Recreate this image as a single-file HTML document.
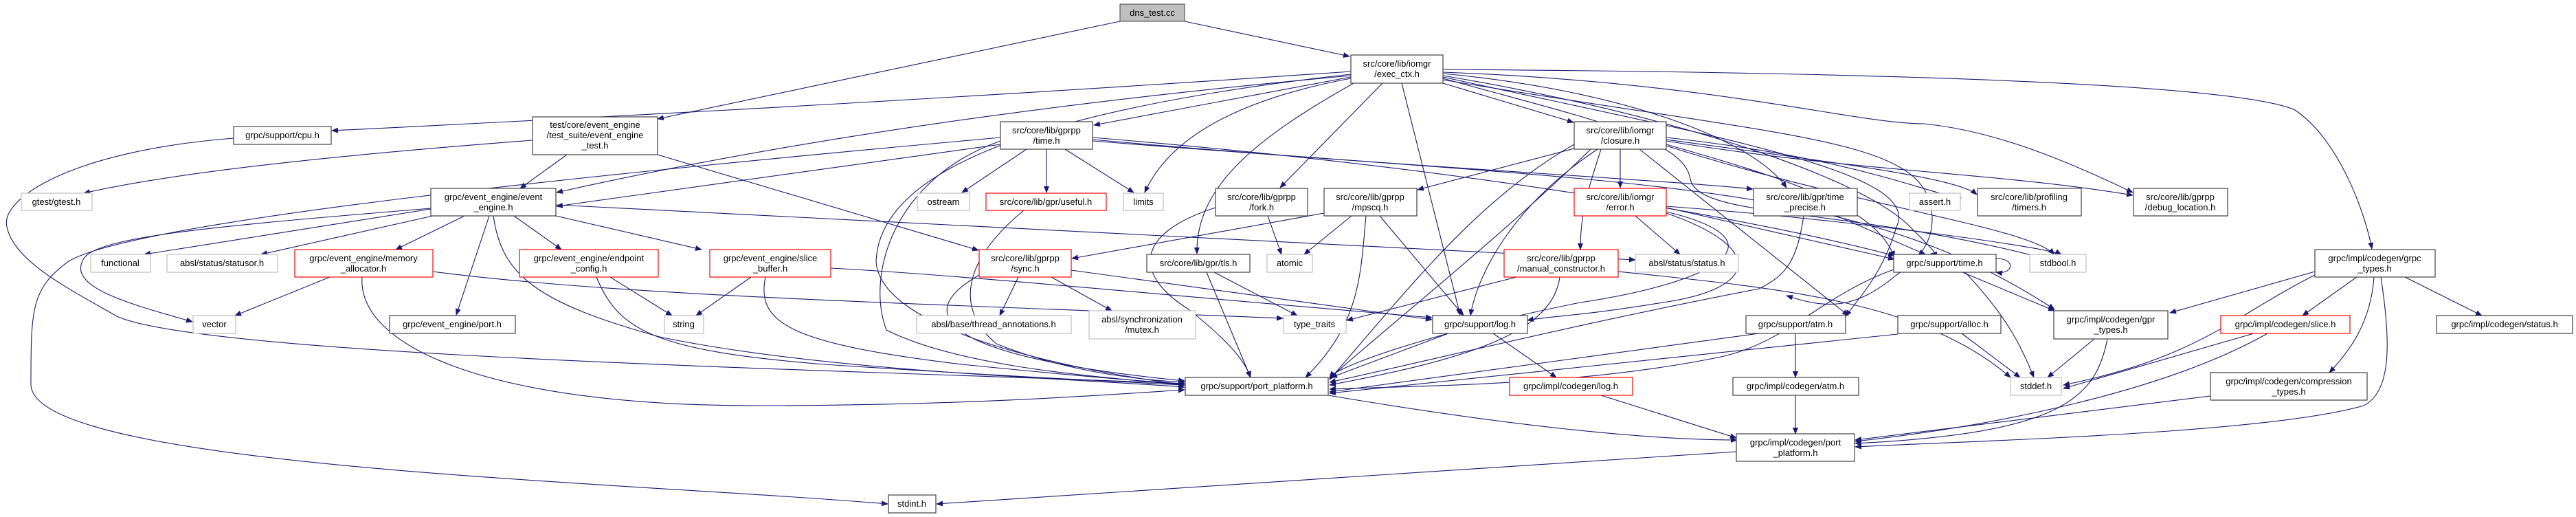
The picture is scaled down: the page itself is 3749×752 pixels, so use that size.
<!DOCTYPE html>
<html><head><meta charset="utf-8"><style>
html,body{margin:0;padding:0;background:#fff}
svg{display:block}
text{font-family:"Liberation Sans",sans-serif;font-size:13px;fill:#000;text-anchor:middle}
.n{fill:#fff;stroke:#404040;stroke-width:1.2}
.r{fill:#fff;stroke:#ff0000;stroke-width:1.2}
.g{fill:#fff;stroke:#bfbfbf;stroke-width:1.2}
.e{fill:none;stroke:#191970;stroke-width:1.1;marker-end:url(#a)}
</style></head><body>
<svg width="3749" height="752" viewBox="0 0 3749 752" xmlns="http://www.w3.org/2000/svg">
<defs><marker id="a" markerWidth="10" markerHeight="8" refX="9" refY="4" orient="auto" markerUnits="userSpaceOnUse"><path d="M0,0 L10,4 L0,8 z" fill="#191970"/></marker></defs>

<!-- edges -->
<path class="e" d="M1630,31 L957,173"/>
<path class="e" d="M1724,31 L1964,82"/>
<path class="e" d="M1966,104 Q1300,150 483,190"/>
<path class="e" d="M1966,110 Q1300,170 810,280"/>
<path class="e" d="M1966,112 L1592,182"/>
<path class="e" d="M1966,114 Q1720,160 1666,280"/>
<path class="e" d="M1970,121 C1830,200 1740,270 1742,369"/>
<path class="e" d="M2012,121 L1863,273"/>
<path class="e" d="M2040,121 L2125,458"/>
<path class="e" d="M2100,121 L2290,178"/>
<path class="e" d="M1966,108 C1500,160 1280,250 1275,380 C1280,470 1500,530 1724,560"/>
<path class="e" d="M2100,101 C2700,105 3250,120 3340,160 C3400,200 3440,300 3452,362"/>
<path class="e" d="M2100,105 C2500,120 2700,180 2800,180 C2900,190 3000,230 3104,280"/>
<path class="e" d="M2100,107 C2350,130 2550,200 2600,273"/>
<path class="e" d="M2100,110 C2400,160 2700,250 2780,330 C2820,370 2820,370 2810,369"/>
<path class="e" d="M2100,112 C2500,200 2800,250 2760,330 C2740,400 2700,440 2686,460"/>
<path class="e" d="M2100,114 C2300,170 2450,200 2460,260 C2470,320 2700,300 2990,380"/>
<path class="e" d="M2100,116 C2600,200 2790,200 2810,300 C2820,350 2790,380 2760,400 C2700,450 2660,450 2600,430"/>
<!-- time.h -->
<path class="e" d="M1494,217 L1400,280"/>
<path class="e" d="M1523,217 L1523,280"/>
<path class="e" d="M1550,217 L1650,280"/>
<path class="e" d="M1456,200 C900,250 200,320 100,380 C45,420 45,450 45,560 C50,680 900,700 1292,733"/>
<path class="e" d="M1456,205 C1300,260 1260,400 1290,480 C1400,535 1600,548 1724,560"/>
<path class="e" d="M1590,200 C2200,250 2600,330 2757,372"/>
<path class="e" d="M1590,203 C2000,240 2400,260 2551,275"/>
<path class="e" d="M1590,205 C2400,270 2700,260 2990,450"/>
<path class="e" d="M1456,210 L810,300"/>
<!-- test.h -->
<path class="e" d="M775,204 Q300,240 122,281"/>
<path class="e" d="M825,225 L757,274"/>
<path class="e" d="M957,225 L1424,364"/>
<!-- cpu -->
<path class="e" d="M340,201 C100,220 0,290 10,330 C20,380 100,420 170,460 C300,520 1300,540 1724,558"/>
<!-- event_engine.h -->
<path class="e" d="M627,303 C300,330 130,345 120,380 C100,420 200,445 280,468"/>
<path class="e" d="M627,304 L210,370"/>
<path class="e" d="M630,314 L380,370"/>
<path class="e" d="M676,314 L576,363"/>
<path class="e" d="M712,314 L664,458"/>
<path class="e" d="M748,314 L817,363"/>
<path class="e" d="M809,314 L1021,363"/>
<path class="e" d="M809,298 L2380,378"/>
<path class="e" d="M718,314 C730,400 780,440 960,490 C1200,540 1550,550 1724,563"/>
<!-- memory -->
<path class="e" d="M480,403 L342,459"/>
<path class="e" d="M527,403 C520,500 700,590 1100,590 C1400,590 1600,575 1724,567"/>
<path class="e" d="M630,395 C900,430 1300,440 1867,463"/>
<!-- endpoint -->
<path class="e" d="M888,403 L978,459"/>
<path class="e" d="M868,403 C900,480 950,510 1200,530 C1500,550 1650,556 1724,560"/>
<!-- slice_buffer -->
<path class="e" d="M1093,403 L1013,459"/>
<path class="e" d="M1114,403 C1100,470 1150,500 1400,530 C1600,550 1680,556 1724,558"/>
<path class="e" d="M1209,390 C1400,400 1700,430 2084,462"/>
<!-- sync -->
<path class="e" d="M1482,403 L1455,459"/>
<path class="e" d="M1530,403 L1618,452"/>
<path class="e" d="M1425,400 C1320,460 1380,520 1724,554"/>
<path class="e" d="M1559,393 L2084,465"/>
<!-- useful -->
<path class="e" d="M1490,306 C1400,380 1390,450 1450,500 C1550,540 1650,552 1724,556"/>
<!-- tls -->
<path class="e" d="M1767,396 L1888,459"/>
<path class="e" d="M1756,396 L1820,549"/>
<!-- fork -->
<path class="e" d="M1845,314 L1865,370"/>
<path class="e" d="M1769,302 C1650,340 1650,400 1730,450 C1780,490 1810,520 1820,549"/>
<!-- mpscq -->
<path class="e" d="M1967,314 L1898,370"/>
<path class="e" d="M2008,314 L2130,459"/>
<path class="e" d="M1988,314 C1980,400 1980,470 1900,549"/>
<path class="e" d="M1927,310 L1560,376"/>
<!-- closure -->
<path class="e" d="M2291,216 L2063,276"/>
<path class="e" d="M2358,217 L2358,273"/>
<path class="e" d="M2330,217 C2310,280 2300,310 2300,363"/>
<path class="e" d="M2325,217 C2200,300 2150,400 2140,459"/>
<path class="e" d="M2315,217 C2200,330 2050,450 1935,550"/>
<path class="e" d="M2386,217 L2690,459"/>
<path class="e" d="M2425,200 C2700,230 2800,280 2854,288"/>
<path class="e" d="M2425,203 C2700,240 2850,260 2877,283"/>
<path class="e" d="M2425,205 C2700,250 2900,250 3104,284"/>
<path class="e" d="M2425,210 C2600,260 2730,300 2757,374"/>
<path class="e" d="M2425,212 C2700,300 2950,330 2990,370"/>
<path class="e" d="M2291,210 C2150,290 2050,420 1935,552"/>
<!-- error -->
<path class="e" d="M2380,314 L2445,370"/>
<path class="e" d="M2425,302 L2757,377"/>
<path class="e" d="M2425,308 C2600,350 2500,410 2300,440 C2100,480 1950,530 1935,549"/>
<path class="e" d="M2425,310 C2570,360 2560,420 2420,440 C2300,460 2250,460 2223,466"/>
<path class="e" d="M2425,300 C2700,320 2980,360 3000,370"/>
<!-- manual_constructor -->
<path class="e" d="M2207,403 L1960,466"/>
<path class="e" d="M2270,403 C2260,480 2150,520 1935,560"/>
<path class="e" d="M2355,395 C2600,420 2800,440 2926,549"/>
<!-- time_precise -->
<path class="e" d="M2673,314 L2802,370"/>
<path class="e" d="M2625,314 C2615,380 2600,400 2560,420 C2300,470 2100,520 1935,556"/>
<!-- support/time.h -->
<path class="e" d="M2905,376 C2935,376 2930,400 2905,396"/>
<path class="e" d="M2856,396 L2990,452"/>
<path class="e" d="M2860,396 C2920,460 2940,500 2960,549"/>
<path class="e" d="M2756,392 C2650,430 2600,500 2500,520 C2300,560 2100,560 1935,566"/>
<!-- log -->
<path class="e" d="M2108,485 L1937,549"/>
<path class="e" d="M2173,485 L2265,549"/>
<!-- port_platform -->
<path class="e" d="M1933,575 C2200,620 2400,640 2528,640"/>
<path class="e" d="M2330,575 L2527,637"/>
<path class="e" d="M2527,657 L1363,733"/>
<!-- atm -->
<path class="e" d="M2613,485 L2613,549"/>
<path class="e" d="M2560,485 L1935,570"/>
<path class="e" d="M2613,575 L2613,631"/>
<!-- alloc -->
<path class="e" d="M2855,485 L2940,549"/>
<path class="e" d="M2762,486 L1935,572"/>
<!-- gpr_types -->
<path class="e" d="M3048,493 L2980,549"/>
<path class="e" d="M3067,493 C3050,580 3000,630 2700,645"/>
<!-- grpc_types -->
<path class="e" d="M3369,395 L3158,455"/>
<path class="e" d="M3430,403 L3351,459"/>
<path class="e" d="M3500,403 L3612,459"/>
<path class="e" d="M3455,403 C3450,470 3420,510 3390,542"/>
<path class="e" d="M3465,403 C3480,500 3480,570 3440,590 C3300,630 2900,640 2700,650"/>
<path class="e" d="M3369,400 C3250,460 3200,520 3003,560"/>
<!-- slice -->
<path class="e" d="M3280,485 L3003,565"/>
<path class="e" d="M3300,485 C3150,570 2900,620 2700,642"/>
<!-- compression -->
<path class="e" d="M3217,576 L2700,640"/>

<!-- nodes -->
<rect x="1630" y="6" width="94" height="25" fill="#bfbfbf" stroke="#404040"/><text x="1677" y="23">dns_test.cc</text>
<rect class="n" x="1966" y="80" width="134" height="41"/><text x="2033" y="97">src/core/lib/iomgr</text><text x="2033" y="112">/exec_ctx.h</text>
<rect class="n" x="340" y="184" width="142" height="26"/><text x="411" y="201">grpc/support/cpu.h</text>
<rect class="n" x="775" y="170" width="182" height="55"/><text x="866" y="186">test/core/event_engine</text><text x="866" y="201">/test_suite/event_engine</text><text x="866" y="216">_test.h</text>
<rect class="n" x="1456" y="177" width="134" height="40"/><text x="1523" y="194">src/core/lib/gprpp</text><text x="1523" y="209">/time.h</text>
<rect class="n" x="2291" y="177" width="134" height="40"/><text x="2358" y="194">src/core/lib/iomgr</text><text x="2358" y="209">/closure.h</text>
<rect class="g" x="31" y="281" width="103" height="25"/><text x="82" y="298">gtest/gtest.h</text>
<rect class="n" x="627" y="274" width="182" height="40"/><text x="718" y="291">grpc/event_engine/event</text><text x="718" y="306">_engine.h</text>
<rect class="g" x="1335" y="281" width="76" height="25"/><text x="1373" y="298">ostream</text>
<rect class="r" x="1435" y="281" width="175" height="25"/><text x="1522" y="298">src/core/lib/gpr/useful.h</text>
<rect class="g" x="1635" y="281" width="58" height="25"/><text x="1664" y="298">limits</text>
<rect class="n" x="1769" y="274" width="134" height="40"/><text x="1836" y="291">src/core/lib/gprpp</text><text x="1836" y="306">/fork.h</text>
<rect class="n" x="1927" y="274" width="135" height="40"/><text x="1994" y="291">src/core/lib/gprpp</text><text x="1994" y="306">/mpscq.h</text>
<rect class="r" x="2291" y="274" width="134" height="40"/><text x="2358" y="291">src/core/lib/iomgr</text><text x="2358" y="306">/error.h</text>
<rect class="n" x="2552" y="274" width="151" height="40"/><text x="2627" y="291">src/core/lib/gpr/time</text><text x="2627" y="306">_precise.h</text>
<rect class="g" x="2779" y="281" width="74" height="25"/><text x="2816" y="298">assert.h</text>
<rect class="n" x="2878" y="274" width="151" height="40"/><text x="2953" y="291">src/core/lib/profiling</text><text x="2953" y="306">/timers.h</text>
<rect class="n" x="3105" y="274" width="137" height="40"/><text x="3173" y="291">src/core/lib/gprpp</text><text x="3173" y="306">/debug_location.h</text>
<rect class="g" x="132" y="370" width="87" height="26"/><text x="175" y="387">functional</text>
<rect class="g" x="243" y="370" width="161" height="26"/><text x="323" y="387">absl/status/statusor.h</text>
<rect class="r" x="429" y="363" width="201" height="40"/><text x="529" y="380">grpc/event_engine/memory</text><text x="529" y="395">_allocator.h</text>
<rect class="r" x="756" y="363" width="202" height="40"/><text x="857" y="380">grpc/event_engine/endpoint</text><text x="857" y="395">_config.h</text>
<rect class="r" x="1033" y="363" width="176" height="40"/><text x="1121" y="380">grpc/event_engine/slice</text><text x="1121" y="395">_buffer.h</text>
<rect class="r" x="1425" y="363" width="134" height="40"/><text x="1492" y="380">src/core/lib/gprpp</text><text x="1492" y="395">/sync.h</text>
<rect class="n" x="1669" y="370" width="150" height="26"/><text x="1744" y="387">src/core/lib/gpr/tls.h</text>
<rect class="g" x="1844" y="370" width="66" height="26"/><text x="1877" y="387">atomic</text>
<rect class="r" x="2189" y="363" width="166" height="40"/><text x="2272" y="380">src/core/lib/gprpp</text><text x="2272" y="395">/manual_constructor.h</text>
<rect class="g" x="2380" y="370" width="150" height="26"/><text x="2455" y="387">absl/status/status.h</text>
<rect class="n" x="2756" y="370" width="149" height="26"/><text x="2830" y="387">grpc/support/time.h</text>
<rect class="g" x="2954" y="370" width="82" height="26"/><text x="2995" y="387">stdbool.h</text>
<rect class="n" x="3369" y="363" width="175" height="40"/><text x="3456" y="380">grpc/impl/codegen/grpc</text><text x="3456" y="395">_types.h</text>
<rect class="g" x="281" y="459" width="62" height="26"/><text x="312" y="476">vector</text>
<rect class="n" x="567" y="459" width="183" height="26"/><text x="658" y="476">grpc/event_engine/port.h</text>
<rect class="g" x="967" y="459" width="57" height="26"/><text x="995" y="476">string</text>
<rect class="g" x="1334" y="459" width="225" height="26"/><text x="1446" y="476">absl/base/thread_annotations.h</text>
<rect class="g" x="1585" y="452" width="155" height="41"/><text x="1662" y="469">absl/synchronization</text><text x="1662" y="484">/mutex.h</text>
<rect class="g" x="1868" y="459" width="91" height="26"/><text x="1913" y="476">type_traits</text>
<rect class="n" x="2085" y="459" width="138" height="26"/><text x="2154" y="476">grpc/support/log.h</text>
<rect class="n" x="2541" y="459" width="145" height="26"/><text x="2613" y="476">grpc/support/atm.h</text>
<rect class="n" x="2762" y="459" width="150" height="26"/><text x="2837" y="476">grpc/support/alloc.h</text>
<rect class="n" x="2989" y="452" width="166" height="41"/><text x="3072" y="469">grpc/impl/codegen/gpr</text><text x="3072" y="484">_types.h</text>
<rect class="r" x="3232" y="459" width="188" height="26"/><text x="3326" y="476">grpc/impl/codegen/slice.h</text>
<rect class="n" x="3546" y="459" width="198" height="26"/><text x="3645" y="476">grpc/impl/codegen/status.h</text>
<rect class="n" x="1725" y="549" width="208" height="26"/><text x="1829" y="566">grpc/support/port_platform.h</text>
<rect class="r" x="2197" y="549" width="179" height="26"/><text x="2286" y="566">grpc/impl/codegen/log.h</text>
<rect class="n" x="2522" y="549" width="183" height="26"/><text x="2613" y="566">grpc/impl/codegen/atm.h</text>
<rect class="g" x="2926" y="549" width="74" height="26"/><text x="2963" y="566">stddef.h</text>
<rect class="n" x="3217" y="542" width="228" height="40"/><text x="3331" y="559">grpc/impl/codegen/compression</text><text x="3331" y="574">_types.h</text>
<rect class="n" x="2527" y="631" width="172" height="40"/><text x="2613" y="648">grpc/impl/codegen/port</text><text x="2613" y="663">_platform.h</text>
<rect class="n" x="1293" y="720" width="69" height="26"/><text x="1327" y="737">stdint.h</text>
</svg>
</body></html>
